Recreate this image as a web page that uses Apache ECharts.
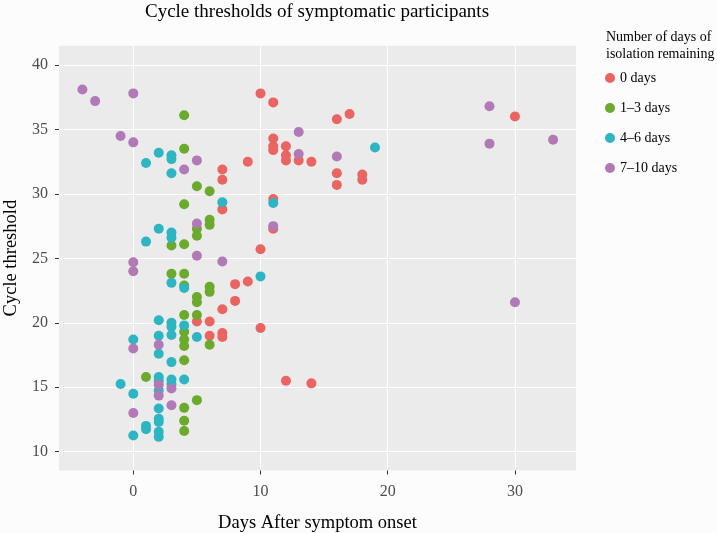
<!DOCTYPE html>
<html>
<head>
<meta charset="utf-8">
<script src="https://cdn.jsdelivr.net/npm/echarts@6/dist/echarts.min.js"></script>
<style>
html,body{margin:0;padding:0;background:#FCFCFC;}
#chart{width:717px;height:533px;}
</style>
</head>
<body>
<div id="chart"></div>
<script>
// ---- data ----
var categories = ['0 days', '1\u20133 days', '4\u20136 days', '7\u201310 days'];
var xTicks = [0, 10, 20, 30];
var yTicks = [10, 15, 20, 25, 30, 35, 40];

var days0 = [
  [10,37.8],[11,37.1],[16,35.8],[17,36.2],[30,36.0],
  [11,34.3],[11,33.7],[11,33.4],[12,33.7],[12,33.0],[12,32.6],[13,32.6],[14,32.5],[9,32.5],
  [16,31.6],[16,30.7],[18,31.5],[18,31.1],
  [7,31.9],[7,31.1],[7,28.8],
  [11,29.6],[11,27.3],[10,25.7],[9,23.2],[8,23.0],[8,21.7],[7,21.05],
  [5,20.1],[6,20.1],[10,19.6],[6,19.0],[7,19.2],[7,18.9],
  [12,15.5],[14,15.3]
];
var days1to3 = [
  [4,36.1],[4,33.5],[5,30.6],[6,30.2],[4,29.2],[5,27.3],[5,26.75],[6,28.0],[6,27.6],[3,26.0],[4,26.1],
  [3,23.8],[4,23.8],[4,22.9],[6,22.8],[6,22.4],[5,22.0],[5,21.6],[4,20.6],[5,20.6],
  [4,19.3],[4,18.7],[4,18.2],[6,18.3],[4,17.1],[1,15.8],[5,14.0],[4,13.4],[4,12.4],[4,11.6]
];
var days4to6 = [
  [2,33.2],[3,33.0],[3,32.7],[1,32.4],[3,31.6],[19,33.6],[7,29.35],[11,29.3],
  [2,27.3],[3,27.0],[3,26.6],[1,26.3],[10,23.6],[3,23.1],[4,22.7],
  [2,20.2],[3,20.0],[3,19.7],[3,19.05],[4,19.8],[2,19.0],[5,18.9],[0,18.7],[2,17.6],[3,16.95],
  [2,15.8],[2,15.5],[2,14.75],[3,15.6],[3,15.25],[4,15.6],[-1,15.25],[0,14.5],[2,13.35],
  [2,12.55],[2,12.3],[1,12.0],[1,11.75],[2,11.55],[0,11.25],[2,11.15]
];
var days7to10 = [
  [-4,38.1],[-3,37.2],[0,37.8],[-1,34.5],[0,34.0],[5,32.6],[4,31.9],[13,34.8],[13,33.1],[16,32.9],
  [28,36.8],[28,33.9],[33,34.2],
  [5,27.7],[11,27.5],[0,24.7],[0,24.0],[5,25.2],[7,24.75],[30,21.6],
  [0,18.0],[2,18.3],[2,15.2],[2,14.35],[3,14.9],[3,13.6],[0,13.0]
];
var seriesData = [days0, days1to3, days4to6, days7to10];
var colors = ['#EA6461', '#6BAA2C', '#2EB5C2', '#B17AB6'];

// ---- chart ----
var FONT = '"Liberation Serif", "DejaVu Serif", serif';
var chart = echarts.init(document.getElementById('chart'), null, {renderer: 'canvas'});
var option = {
  backgroundColor: '#FCFCFC',
  animation: false,
  color: colors,
  textStyle: {fontFamily: FONT},
  title: [
    {
      text: 'Cycle thresholds of symptomatic participants',
      left: 317, top: 3, textAlign: 'center', padding: 0,
      textStyle: {fontFamily: FONT, fontSize: 19, fontWeight: 'normal', color: '#000'}
    },
    {
      text: 'Number of days of\nisolation remaining',
      left: 606, top: 29, padding: 0,
      textStyle: {fontFamily: FONT, fontSize: 14, fontWeight: 'normal', color: '#000', lineHeight: 17}
    }
  ],
  legend: {
    orient: 'vertical',
    left: 605, top: 71, padding: 0,
    itemWidth: 10, itemHeight: 10, itemGap: 16,
    icon: 'circle',
    data: categories,
    textStyle: {fontFamily: FONT, fontSize: 14, color: '#000', lineHeight: 13}
  },
  grid: {
    left: 59, top: 45.7, right: 141, bottom: 62.5,
    show: true, backgroundColor: '#EBEBEB', borderWidth: 0,
    containLabel: false,
    outerBoundsMode: 'none'
  },
  xAxis: {
    type: 'value',
    min: -5.84, max: 34.8,
    name: 'Days After symptom onset',
    nameLocation: 'middle', nameGap: 43,
    nameTextStyle: {fontFamily: FONT, fontSize: 18.5, color: '#000'},
    axisLine: {show: false, onZero: false},
    axisTick: {show: true, length: 4, lineStyle: {color: '#333'}, customValues: xTicks},
    axisLabel: {fontFamily: FONT, fontSize: 16, color: '#4D4D4D', margin: 13, customValues: xTicks},
    splitLine: {show: true, lineStyle: {color: '#FFFFFF', width: 1.1}}
  },
  yAxis: {
    type: 'value',
    min: 8.54, max: 41.5,
    name: 'Cycle threshold',
    nameLocation: 'middle', nameGap: 37,
    nameTextStyle: {fontFamily: FONT, fontSize: 18.5, color: '#000'},
    axisLine: {show: false, onZero: false},
    axisTick: {show: true, length: 4, lineStyle: {color: '#333'}, customValues: yTicks},
    axisLabel: {fontFamily: FONT, fontSize: 16, color: '#4D4D4D', margin: 11, customValues: yTicks},
    splitLine: {show: true, lineStyle: {color: '#FFFFFF', width: 1.1}}
  },
  series: categories.map(function (name, i) {
    return {
      name: name,
      type: 'scatter',
      symbol: 'circle',
      symbolSize: 10,
      data: seriesData[i],
      itemStyle: {color: colors[i], opacity: 1},
      emphasis: {disabled: true}
    };
  })
};
chart.setOption(option);
</script>
</body>
</html>
